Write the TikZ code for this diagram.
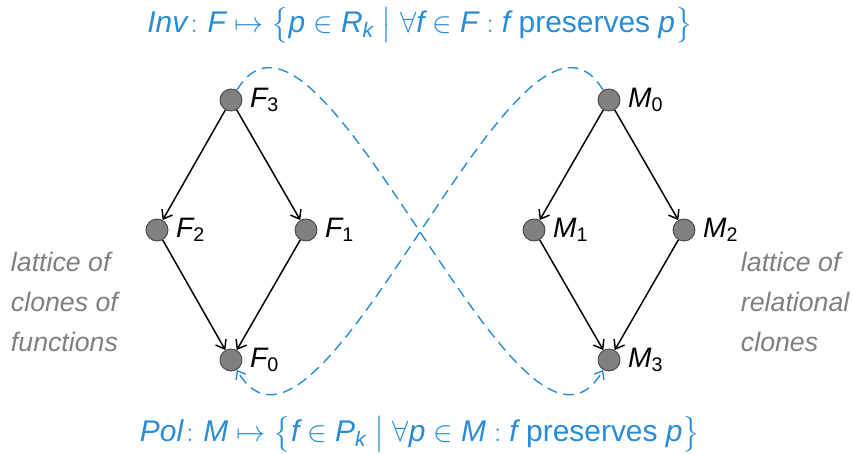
\documentclass[tikz,border=0pt]{standalone}
\usepackage{amsmath,amssymb}
\usepackage{fontspec}
\setmainfont{Liberation Sans}
\usetikzlibrary{arrows.meta,positioning}
\definecolor{mapblue}{RGB}{40,140,215}
\definecolor{latgray}{RGB}{128,128,128}
\newcommand{\iv}[1]{\text{\itshape #1}}

\begin{document}
\begin{tikzpicture}[
  x=0.025cm, y=-0.025cm,
  elem/.style={circle,draw=black!75,fill=latgray,minimum size=0.55cm,inner sep=0pt,line width=0.6pt},
  lbl/.style={label distance=2pt,font=\fontsize{20}{24}\selectfont},
  edge/.style={-{Straight Barb[length=2mm,width=3mm]},line width=1.05pt},
  galois/.style={-{Straight Barb[length=1.8mm,width=2.8mm]},dash pattern=on 7.5pt off 4.5pt,line width=1pt,mapblue},
  side/.style={align=left,anchor=west,font=\fontsize{19}{28.5}\selectfont\itshape,text=latgray},
  formula/.style={font=\fontsize{21.3}{25}\selectfont,text=mapblue}
]
\useasboundingbox (0,0) rectangle (853,453);
% clones of functions
\node[elem,label={[lbl]right:$\iv{F}_{\text{3}}$}] (F3) at (231,100) {};
\node[elem,label={[lbl]right:$\iv{F}_{\text{2}}$}] (F2) at (157,230) {};
\node[elem,label={[lbl]right:$\iv{F}_{\text{1}}$}] (F1) at (306,230) {};
\node[elem,label={[lbl]right:$\iv{F}_{\text{0}}$}] (F0) at (231,360) {};
% relational clones
\node[elem,label={[lbl]right:$\iv{M}_{\text{0}}$}] (M0) at (609,100) {};
\node[elem,label={[lbl]right:$\iv{M}_{\text{1}}$}] (M1) at (534,230) {};
\node[elem,label={[lbl]right:$\iv{M}_{\text{2}}$}] (M2) at (684,230) {};
\node[elem,label={[lbl]right:$\iv{M}_{\text{3}}$}] (M3) at (609,360) {};

\node[side] (lfun) at (6,302) {lattice of\\clones of\\functions};
\node[side] (lrel) at (736,302) {lattice of\\relational\\clones};

\node[formula] (inv) at (420,25) {$\iv{Inv}\colon \iv{F}\mapsto \bigl\{\iv{p}\in \iv{R}_{\iv{k}} \bigm| \forall \iv{f}\in \iv{F} : \iv{f}$ preserves $\iv{p}\bigr\}$};
\node[formula] (pol) at (420,434) {$\iv{Pol}\colon \iv{M}\mapsto \bigl\{\iv{f}\in \iv{P}_{\iv{k}} \bigm| \forall \iv{p}\in \iv{M} : \iv{f}$ preserves $\iv{p}\bigr\}$};

\draw[edge] (F3) -- (F2);
\draw[edge] (F3) -- (F1);
\draw[edge] (F2) -- (F0);
\draw[edge] (F1) -- (F0);
\draw[edge] (M0) -- (M1);
\draw[edge] (M0) -- (M2);
\draw[edge] (M1) -- (M3);
\draw[edge] (M2) -- (M3);

\draw[galois] (F3) .. controls (321,-50) and (519,514) .. (M3);
\draw[galois] (M0) .. controls (519,-50) and (321,514) .. (F0);
\end{tikzpicture}
\end{document}
